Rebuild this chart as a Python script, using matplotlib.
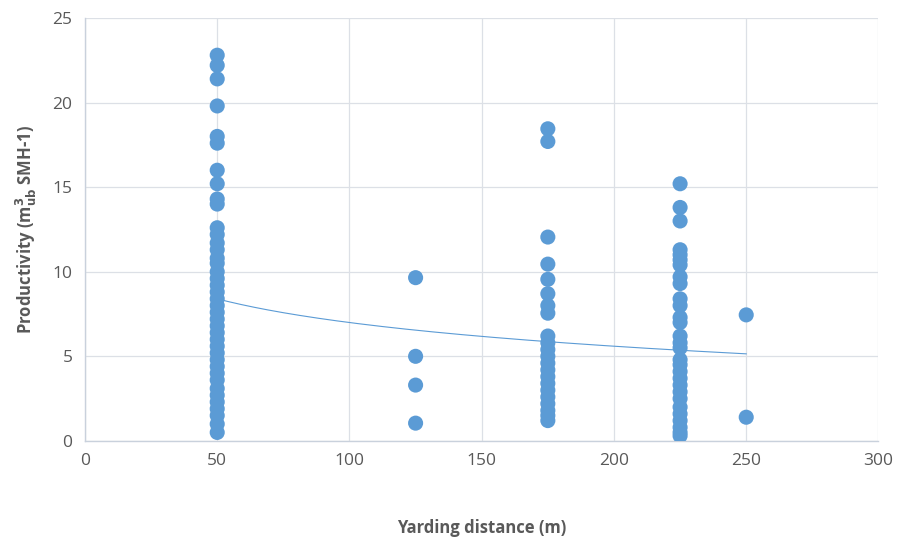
import numpy as np
from matplotlib import pyplot as plt

# yarding distance groups and measured productivity
x_50 = [22.8, 22.2, 21.4, 19.8, 18.0, 17.6, 16.0, 15.2, 14.3, 14.0, 12.6,
        12.2, 11.7, 11.3, 10.8, 10.5, 10.0, 9.6, 9.2, 8.8, 8.4, 8.0, 7.6,
        7.2, 6.8, 6.4, 6.0, 5.6, 5.2, 4.8, 4.4, 4.0, 3.6, 3.1, 2.7, 2.3,
        1.9, 1.5, 1.0, 0.5]
x_125 = [9.65, 5.0, 3.3, 1.05]
x_175 = [18.45, 17.7, 12.05, 10.45, 9.55, 8.7, 8.0, 7.55, 6.2, 5.8, 5.4,
         5.0, 4.6, 4.2, 3.8, 3.4, 3.0, 2.6, 2.2, 1.8, 1.5, 1.2]
x_225 = [15.2, 13.8, 13.0, 11.3, 11.0, 10.7, 10.4, 9.7, 9.3, 8.4, 8.0,
         7.3, 7.0, 6.2, 5.8, 5.5, 4.8, 4.5, 4.1, 3.7, 3.3, 2.9, 2.5, 2.0,
         1.6, 1.2, 0.8, 0.5, 0.3]
x_250 = [7.45, 1.4]

distances = [50, 125, 175, 225, 250]
groups = [x_50, x_125, x_175, x_225, x_250]

# logarithmic trend line: y = a + b*ln(x)
trend_a = 16.3
trend_b = -2.02

blue = '#5B9BD5'
grid = '#DCE0E6'
text = '#595959'

plt.rcParams['font.family'] = ['Open Sans', 'DejaVu Sans']

fig = plt.figure(figsize=(9.01, 5.45), dpi=100)
ax = fig.add_axes([0.0943, 0.191, 0.8807, 0.776])

xs = []
ys = []
for d, vals in zip(distances, groups):
    xs += [d] * len(vals)
    ys += vals
ax.scatter(xs, ys, s=118, color=blue, edgecolors='none', zorder=3)

tx = np.linspace(min(distances), max(distances), 200)
ax.plot(tx, trend_a + trend_b * np.log(tx), color=blue, lw=0.8, zorder=2)

ax.set_xlim(0, 300)
ax.set_ylim(0, 25)
ax.set_xticks(range(0, 301, 50))
ax.set_yticks(range(0, 26, 5))
ax.grid(True, color=grid, lw=0.9, zorder=0)
ax.set_axisbelow(True)
for s in ['top', 'right']:
    ax.spines[s].set_visible(False)
for s in ['left', 'bottom']:
    ax.spines[s].set_color('#C9D1DC')
    ax.spines[s].set_linewidth(1.0)
ax.tick_params(length=0, labelsize=12.5, colors=text, pad=9)

ax.set_xlabel('Yarding distance (m)', fontsize=12, fontweight='bold',
              color=text, labelpad=36)
ax.set_ylabel(r'Productivity (m$^{\mathbf{3}}_{\mathbf{ub}}$ SMH-1)',
              fontsize=12, fontweight='bold', color=text, labelpad=10)

fig.savefig('out.png', dpi=100)
